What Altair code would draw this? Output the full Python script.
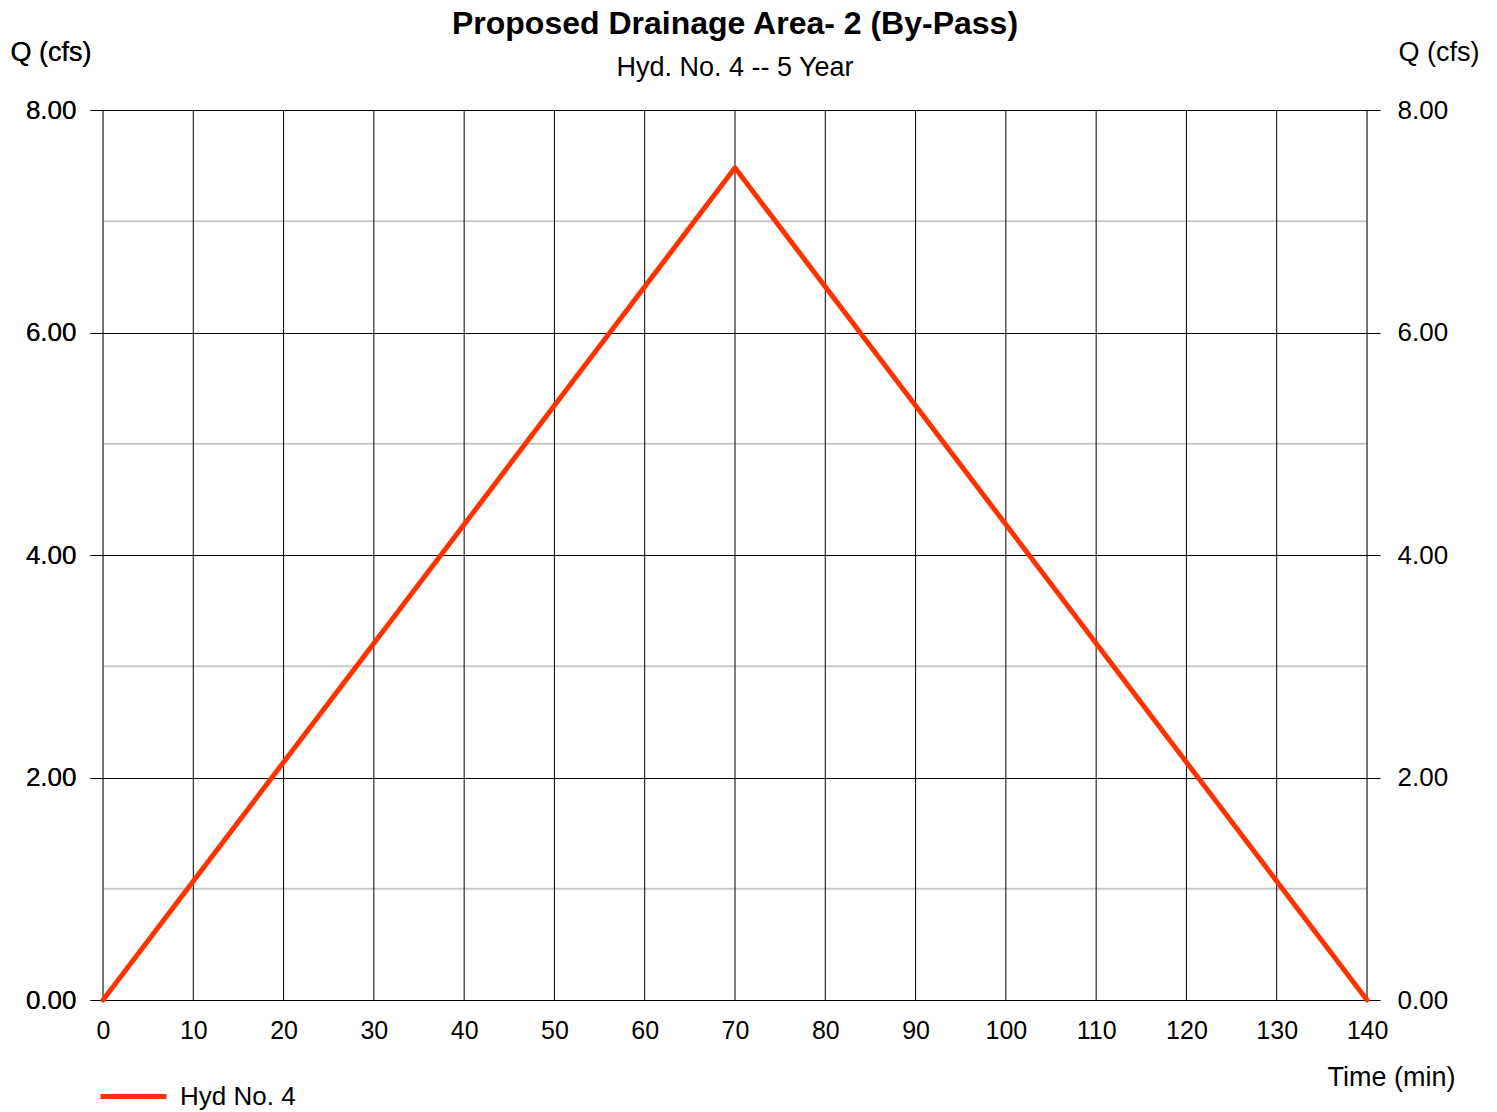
import altair as alt
import pandas as pd

# data
time_min = [0, 70, 140]
q_cfs = [0.0, 7.48, 0.0]
series_name = "Hyd No. 4"
x_ticks = [0, 10, 20, 30, 40, 50, 60, 70, 80, 90, 100, 110, 120, 130, 140]
y_ticks = [0, 2, 4, 6, 8]
y_minor = [1, 3, 5, 7]

FONT = "Liberation Sans"
LINE_COLOR = "#FF3300"

df = pd.DataFrame({"t": time_min, "q": q_cfs, "s": [series_name] * len(time_min)})
minor_df = pd.DataFrame({"q": y_minor})
xt_df = pd.DataFrame({"t": x_ticks})

xscale = alt.Scale(domain=[0, 140], nice=False, zero=False)
yscale = alt.Scale(domain=[0, 8], nice=False, zero=False)

x_axis = alt.Axis(
    values=x_ticks, grid=False, ticks=False, domain=False,
    labelFont=FONT, labelFontSize=25, labelColor="black", labelPadding=18,
    labelFlush=False, labelOverlap=False,
    title="Time (min)", titleFont=FONT, titleFontSize=27, titleFontWeight="normal",
    titleColor="black", titleAnchor="end", titleAlign="right",
    titleX=1352, titleY=85, titleBaseline="alphabetic",
)

y_left = alt.Axis(
    values=y_ticks, grid=True, gridColor="black", gridWidth=1, gridOpacity=1,
    ticks=True, tickSize=13, tickColor="black", domain=False, format=".2f",
    labelFont=FONT, labelFontSize=26, labelColor="black", labelPadding=14,
    labelFlush=False, labelOverlap=False,
    title="Q (cfs)", titleFont=FONT, titleFontSize=27, titleFontWeight="normal",
    titleColor="black", titleAngle=0, titleAlign="left", titleX=-93, titleY=-50,
    titleBaseline="alphabetic", orient="left",
)

y_right = alt.Axis(
    values=y_ticks, grid=False,
    ticks=True, tickSize=13, tickColor="black", domain=False, format=".2f",
    labelFont=FONT, labelFontSize=26, labelColor="black", labelPadding=17,
    labelFlush=False, labelOverlap=False,
    title="Q (cfs)", titleFont=FONT, titleFontSize=27, titleFontWeight="normal",
    titleColor="black", titleAngle=0, titleAlign="left", titleX=31, titleY=-50,
    titleBaseline="alphabetic", orient="right",
)

minor = alt.Chart(minor_df).mark_rule(color="#c8c8c8", strokeWidth=2).encode(
    y=alt.Y("q:Q", scale=yscale, axis=y_left)
)

verticals = alt.Chart(xt_df).mark_rule(color="black", strokeWidth=1).encode(
    x=alt.X("t:Q", scale=xscale, axis=x_axis)
)

line = alt.Chart(df).mark_line(strokeWidth=5, strokeCap="round", strokeJoin="round").encode(
    x=alt.X("t:Q", scale=xscale, axis=x_axis),
    y=alt.Y("q:Q", scale=yscale, axis=y_left),
    color=alt.Color(
        "s:N",
        scale=alt.Scale(domain=[series_name], range=[LINE_COLOR]),
        legend=alt.Legend(
            title=None, orient="none", legendX=-5, legendY=951,
            symbolType="stroke", symbolSize=4356, symbolStrokeWidth=5,
            labelFont=FONT, labelFontSize=26, labelColor="black", labelOffset=11,
        ),
    ),
)

right_axis = alt.Chart(df).mark_line(opacity=0).encode(
    x=alt.X("t:Q", scale=xscale, axis=x_axis),
    y=alt.Y("q:Q", scale=yscale, axis=y_right),
)

chart = (
    alt.layer(minor, verticals, line, right_axis)
    .resolve_scale(y="independent")
    .properties(
        width=1264,
        height=890,
        autosize=alt.AutoSizeParams(type="none"),
        padding={"left": 95, "top": 102, "right": 122, "bottom": 110},
        title=alt.TitleParams(
            text="Proposed Drainage Area- 2 (By-Pass)",
            subtitle="Hyd. No. 4 -- 5 Year",
            font=FONT, fontSize=32, fontWeight="bold", color="black",
            subtitleFont=FONT, subtitleFontSize=27, subtitleColor="black",
            subtitlePadding=14, anchor="middle", offset=-44,
        ),
    )
    .configure_view(strokeWidth=0)
    .configure(background="white")
)

chart.save("out.html", embed_options={"renderer": "svg", "actions": False})
